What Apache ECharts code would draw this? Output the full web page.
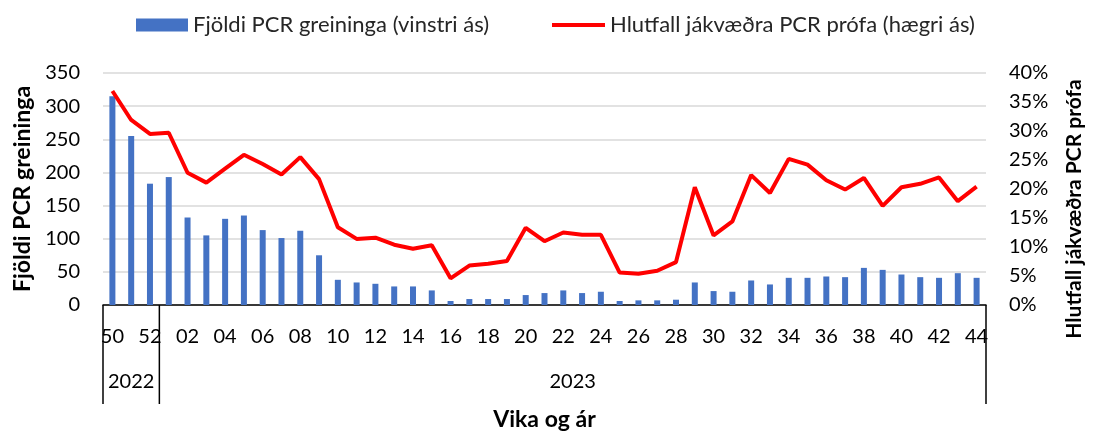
<!DOCTYPE html>
<html>
<head>
<meta charset="utf-8">
<script src="https://cdn.jsdelivr.net/npm/echarts@6/dist/echarts.min.js"></script>
<style>
  html, body { margin: 0; padding: 0; background: #fff; }
  #chart { width: 1093px; height: 436px; }
</style>
</head>
<body>
<div id="chart"></div>
<script>
// vikur: 50-52 árið 2022, 01-44 árið 2023
const weeks = ['50', '51', '52',
  '01', '02', '03', '04', '05', '06', '07', '08', '09', '10',
  '11', '12', '13', '14', '15', '16', '17', '18', '19', '20',
  '21', '22', '23', '24', '25', '26', '27', '28', '29', '30',
  '31', '32', '33', '34', '35', '36', '37', '38', '39', '40',
  '41', '42', '43', '44']
const yearGroups = [
  { year: '2022', count: 3 },
  { year: '2023', count: 44 }
]
// fjöldi PCR greininga (vinstri ás)
const pcrCounts = [315, 255, 183,
  193, 132, 105, 130, 135, 113, 101, 112, 75, 38,
  34, 32, 28, 28, 22, 6, 9, 9, 9, 15,
  18, 22, 18, 20, 6, 7, 7, 8, 34, 21,
  20, 37, 31, 41, 41, 43, 42, 56, 53, 46,
  42, 41, 48, 41]
// hlutfall jákvæðra PCR prófa, % (hægri ás)
const positiveRate = [36.9, 31.9, 29.5,
  29.7, 22.8, 21.1, 23.5, 25.9, 24.3, 22.5, 25.5, 21.7, 13.4,
  11.4, 11.6, 10.4, 9.7, 10.3, 4.6, 6.8, 7.1, 7.6, 13.3,
  11.0, 12.5, 12.1, 12.1, 5.6, 5.4, 5.9, 7.4, 20.3, 12.0,
  14.4, 22.4, 19.3, 25.2, 24.2, 21.5, 19.9, 21.9, 17.1, 20.3,
  20.9, 22.0, 17.9, 20.4]
const leftTicks = { min: 0, max: 350, interval: 50 }
const rightTicks = { min: 0, max: 40, interval: 5 }

const barName = 'Fjöldi PCR greininga (vinstri ás)'
const lineName = 'Hlutfall jákvæðra PCR prófa (hægri ás)'
const font = 'Lato, "Open Sans", sans-serif'

const myChart = echarts.init(document.getElementById('chart'))
const option = {
  animation: false,
  textStyle: { fontFamily: font },
  grid: { left: 103, right: 105, top: 73, bottom: 129 },
  legend: [
    {
      left: 131, top: 9,
      itemWidth: 52, itemHeight: 13,
      textStyle: { fontSize: 22, color: '#262626', fontFamily: font },
      data: [{ name: barName, icon: 'rect' }]
    },
    {
      left: 547, top: 9,
      itemWidth: 53, itemHeight: 4,
      textStyle: { fontSize: 22, color: '#262626', fontFamily: font },
      data: [{ name: lineName, icon: 'rect' }]
    }
  ],
  xAxis: {
    type: 'category',
    data: weeks,
    boundaryGap: true,
    axisLine: { lineStyle: { color: '#000', width: 1.5 } },
    axisTick: { show: false },
    axisLabel: { interval: 1, fontSize: 20, color: '#000', margin: 22 },
    name: 'Vika og ár',
    nameLocation: 'middle',
    nameGap: 103,
    nameTextStyle: { fontSize: 23, fontWeight: 'bold', color: '#000' }
  },
  yAxis: [
    {
      type: 'value',
      min: leftTicks.min, max: leftTicks.max, interval: leftTicks.interval,
      axisLine: { show: false },
      axisTick: { show: false },
      axisLabel: { fontSize: 20, color: '#000', margin: 23 },
      splitLine: { lineStyle: { color: '#d9d9d9', width: 1.5 } },
      name: 'Fjöldi PCR greininga',
      nameLocation: 'middle',
      nameRotate: 90,
      nameGap: 67,
      nameTextStyle: { fontSize: 23, fontWeight: 'bold', color: '#000' }
    },
    {
      type: 'value',
      position: 'right',
      min: rightTicks.min, max: rightTicks.max, interval: rightTicks.interval,
      axisLine: { show: false },
      axisTick: { show: false },
      axisLabel: { fontSize: 20, color: '#000', margin: 23, formatter: '{value}%' },
      splitLine: { show: false },
      name: 'Hlutfall jákvæðra PCR prófa',
      nameLocation: 'middle',
      nameRotate: 90,
      nameGap: 78,
      nameTextStyle: { fontSize: 21, fontWeight: 'bold', color: '#000', padding: [0, 40, 0, 0] }
    }
  ],
  series: [
    {
      name: barName,
      type: 'bar',
      yAxisIndex: 0,
      barWidth: 6,
      itemStyle: { color: '#4472c4' },
      data: pcrCounts
    },
    {
      name: lineName,
      type: 'line',
      yAxisIndex: 1,
      symbol: 'none',
      lineStyle: { color: '#ff0000', width: 4 },
      itemStyle: { color: '#ff0000' },
      data: positiveRate
    }
  ]
}
myChart.setOption(option)

// ára-flokkar undir x-ás: lóðréttar línur og ártöl
function drawYearGroups () {
  const x0 = myChart.convertToPixel({ xAxisIndex: 0 }, weeks[0])
  const x1 = myChart.convertToPixel({ xAxisIndex: 0 }, weeks[1])
  const band = x1 - x0
  const yAxisPx = myChart.convertToPixel({ yAxisIndex: 0 }, 0)
  const elements = []
  let start = 0
  let edge = x0 - band / 2
  elements.push({ type: 'line', shape: { x1: edge, y1: yAxisPx, x2: edge, y2: yAxisPx + 99 }, style: { stroke: '#000', lineWidth: 1.5 } })
  yearGroups.forEach(g => {
    const left = x0 - band / 2 + start * band
    const right = left + g.count * band
    elements.push({ type: 'line', shape: { x1: right, y1: yAxisPx, x2: right, y2: yAxisPx + 99 }, style: { stroke: '#000', lineWidth: 1.5 } })
    elements.push({
      type: 'text', x: (left + right) / 2, y: yAxisPx + 77,
      style: { text: g.year, fontSize: 20, fontFamily: font, fill: '#000', align: 'center', verticalAlign: 'middle' }
    })
    start += g.count
  })
  myChart.setOption({ graphic: elements })
}
drawYearGroups()
</script>
</body>
</html>
